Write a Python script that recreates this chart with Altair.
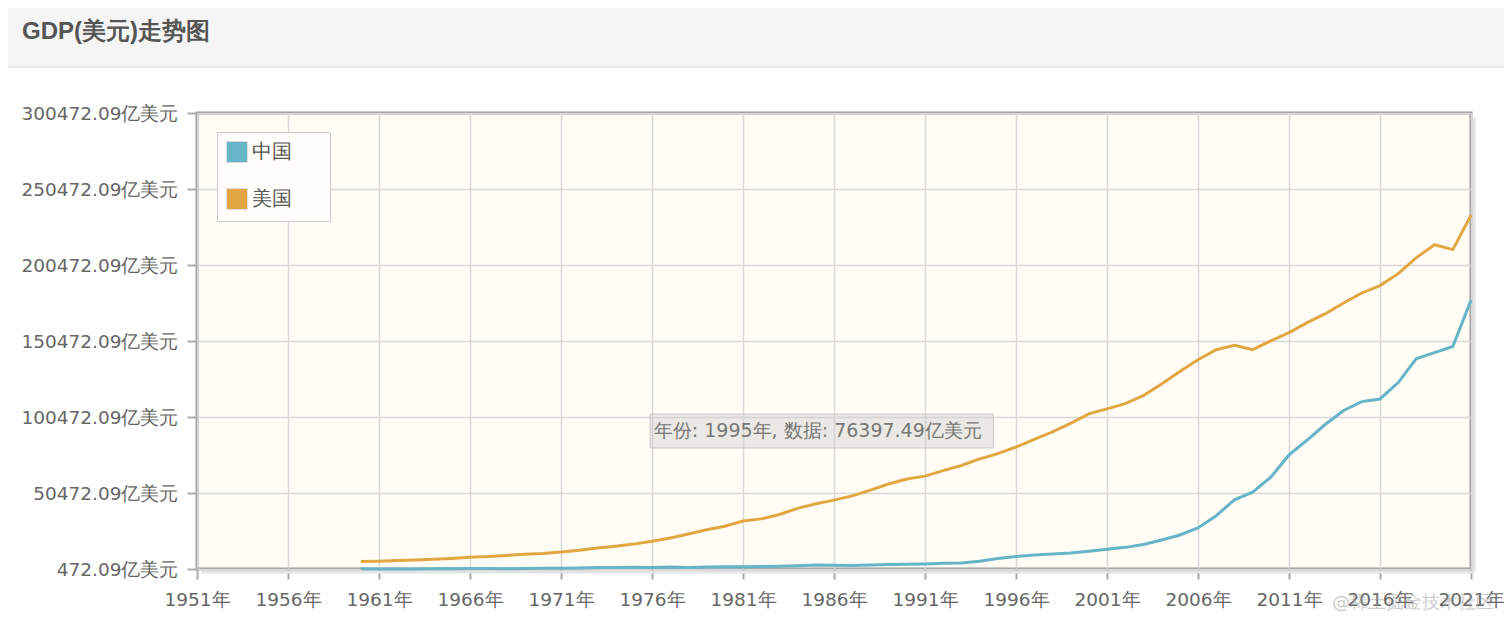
import altair as alt
import pandas as pd

# ---------------- data (亿美元) ----------------
years = list(range(1960, 2022))
china = [597.2, 500.6, 472.09, 507.1, 597.1, 704.4, 767.2, 729.8, 708.5, 796.8,
         926.0, 998.0, 1136.9, 1384.5, 1442.2, 1634.3, 1538.9, 1749.4, 1495.4, 1783.4,
         1911.5, 1958.7, 2050.9, 2306.9, 2599.5, 3094.9, 3007.6, 2729.7, 3123.5, 3477.7,
         3608.6, 3834.0, 4269.2, 4446.8, 5643.2, 7345.5, 8637.5, 9616.0, 10290.4, 10940.0,
         12113.5, 13393.9, 14705.5, 16602.9, 19553.5, 22859.7, 27521.3, 35503.4, 45943.3, 51016.9,
         60871.6, 75515.0, 85322.3, 95703.8, 104756.8, 110615.5, 112332.8, 123104.1, 138948.2, 142799.6,
         146876.7, 177340.6]
usa = [5433.0, 5633.0, 6051.0, 6386.0, 6858.0, 7437.0, 8150.0, 8617.0, 9425.0, 10199.0,
       10733.0, 11649.0, 12791.0, 14254.0, 15452.0, 16849.0, 18734.0, 20818.0, 23516.0, 26273.0,
       28573.0, 32070.0, 33438.0, 36340.0, 40376.0, 43390.0, 45796.0, 48552.0, 52364.0, 56416.0,
       59631.0, 61581.0, 65203.0, 68586.0, 72872.0, 76397.49, 80732.0, 85776.0, 90628.0, 96312.0,
       102510.0, 105819.0, 109291.0, 114564.0, 122172.0, 130392.0, 138156.0, 144742.0, 147699.0, 144781.0,
       150490.0, 155997.0, 162540.0, 168432.0, 175507.0, 182060.0, 186951.0, 194773.0, 205331.0, 213810.0,
       210605.0, 233151.0]

series_names = ["中国", "美国"]
series_colors = ["#66b4c8", "#e2a742"]
x_ticks = [1951, 1956, 1961, 1966, 1971, 1976, 1981, 1986, 1991, 1996, 2001, 2006, 2011, 2016, 2021]
y_ticks = [472.09, 50472.09, 100472.09, 150472.09, 200472.09, 250472.09, 300472.09]
title_text = "GDP(美元)走势图"
tip_year = 1995
tip_value = 76397.49
tip_text = f"年份: {tip_year}年, 数据: {tip_value:.2f}亿美元"
tip_box = {"x1": [1975.9], "x2": [1994.75], "y1": [80100.0], "y2": [102400.0],
           "tx": [1976.1], "ty": [91263.0]}
watermark = "@稀土掘金技术社区"

W, H = 1274, 456
PL, PT, PR, PB = 189, 105, 33, 58
FONT = "DejaVu Sans"

df = pd.DataFrame({
    "year": years * 2,
    "gdp": china + usa,
    "country": ["中国"] * len(years) + ["美国"] * len(years),
})

x_scale = alt.Scale(domain=[1951, 2021], nice=False, zero=False)
y_scale = alt.Scale(domain=[472.09, 300472.09], nice=False, zero=False)
c_scale = alt.Scale(domain=series_names, range=series_colors)
x_axis = alt.Axis(values=x_ticks, labelExpr="datum.value + '年'", title=None,
                  labelPadding=11, labelFlush=False)
y_axis = alt.Axis(values=y_ticks, labelExpr="format(datum.value, '.2f') + '亿美元'",
                  title=None, labelPadding=9)

one = pd.DataFrame({"a": [0]})

header = alt.Chart(one).mark_rect(color="#f5f5f5").encode(
    x=alt.value(-PL), x2=alt.value(W + PR), y=alt.value(-PT), y2=alt.value(-46))
header_line = alt.Chart(one).mark_rule(color="#e2e2e2", strokeWidth=1.5).encode(
    x=alt.value(-PL), x2=alt.value(W + PR), y=alt.value(-46))
title = alt.Chart(one).mark_text(
    text=title_text, font="Liberation Sans", fontSize=24, fontWeight="bold",
    color="#555555", align="left", baseline="middle").encode(
    x=alt.value(-175), y=alt.value(-81))

shadow_r = alt.Chart(one).mark_rule(color="#e4e4e4", strokeWidth=3).encode(
    x=alt.value(W + 3), y=alt.value(4), y2=alt.value(H + 3))
shadow_b = alt.Chart(one).mark_rule(color="#e4e4e4", strokeWidth=3).encode(
    x=alt.value(4), x2=alt.value(W + 3), y=alt.value(H + 3))

lines = alt.Chart(df).mark_line(strokeWidth=3).encode(
    x=alt.X("year:Q", scale=x_scale, axis=x_axis),
    y=alt.Y("gdp:Q", scale=y_scale, axis=y_axis),
    color=alt.Color("country:N", scale=c_scale, legend=None),
)

# empty filled-square layer: only supplies a legend with filled swatches
legend_layer = alt.Chart(df).transform_filter("false").mark_square(filled=True, size=100).encode(
    x=alt.X("year:Q", scale=x_scale, axis=x_axis),
    y=alt.Y("gdp:Q", scale=y_scale, axis=y_axis),
    color=alt.Color("country:N", scale=c_scale,
                    legend=alt.Legend(orient="none", legendX=20, legendY=19, title=None,
                                      symbolType="square", symbolSize=441, symbolOpacity=1,
                                      symbolStrokeColor="#dddddd", symbolStrokeWidth=1,
                                      labelFontSize=19.5, labelColor="#555555", labelFont=FONT,
                                      labelExpr="datum.label + '\u2800\u2800'",
                                      labelOffset=4, rowPadding=21, padding=9,
                                      strokeColor="#cccccc", fillColor="#fffefa")),
)

tip_df = pd.DataFrame(tip_box)
tip_rect = alt.Chart(tip_df).mark_rect(fill="#d0d0d0", fillOpacity=0.45,
                                       stroke="#c8c8c8", strokeWidth=1).encode(
    x=alt.X("x1:Q", scale=x_scale, axis=x_axis), x2="x2:Q",
    y=alt.Y("y1:Q", scale=y_scale, axis=y_axis), y2="y2:Q")
tip_label = alt.Chart(tip_df).mark_text(text=tip_text, font=FONT, fontSize=19, color="#777777",
                                        align="left", baseline="middle").encode(
    x=alt.X("tx:Q", scale=x_scale, axis=x_axis),
    y=alt.Y("ty:Q", scale=y_scale, axis=y_axis))

wm = alt.Chart(one).mark_text(text=watermark, font=FONT, fontSize=18, color="#999999",
                              opacity=0.5, align="left", baseline="middle").encode(
    x=alt.value(1135), y=alt.value(490))

chart = alt.layer(header, header_line, title, shadow_r, shadow_b, lines, legend_layer,
                  tip_rect, tip_label, wm).resolve_legend(color="independent").properties(
    width=W, height=H,
    autosize=alt.AutoSizeParams(type="none"),
    padding={"left": PL, "top": PT, "right": PR, "bottom": PB},
    background="#ffffff",
).configure_view(
    fill="#fffdf6", stroke="#999999", strokeWidth=3,
).configure_axis(
    grid=True, gridColor="#d8d8d8", gridWidth=1.5,
    domain=False, tickColor="#aaaaaa", tickWidth=2, tickSize=10,
    labelColor="#666666", labelFont=FONT, labelFontSize=18.5,
)

chart.save("out.html", embed_options={"renderer": "svg", "actions": False})
